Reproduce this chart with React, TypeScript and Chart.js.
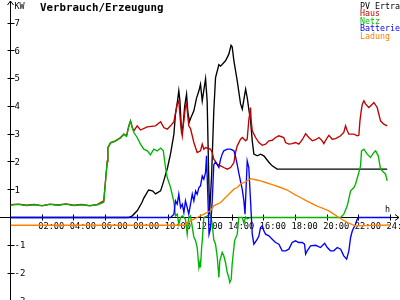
import React, { useEffect, useRef } from "react";
import { Chart, registerables } from "chart.js";

Chart.register(...registerables);

// ---- Data (hours of day, kW) ----
const pvTimes = [0, 7.45, 7.69, 8.0, 8.3, 8.42, 8.72, 8.97, 9.16, 9.48, 9.68, 9.92, 10.11, 10.32, 10.42, 10.55, 10.63, 10.7, 10.8, 10.9, 11.0, 11.12, 11.2, 11.3, 11.4, 11.58, 11.75, 11.9, 12.0, 12.11, 12.32, 12.42, 12.57, 12.7, 12.84, 12.95, 13.16, 13.27, 13.58, 13.79, 13.93, 14.0, 14.11, 14.32, 14.53, 14.64, 14.85, 14.95, 15.05, 15.16, 15.27, 15.37, 15.59, 15.79, 16.0, 16.32, 16.53, 16.84, 23.79];
const pvValues = [0, 0, 0.06, 0.24, 0.54, 0.7, 0.99, 0.96, 0.85, 0.96, 1.32, 1.8, 2.3, 3.0, 3.73, 4.2, 4.56, 4.2, 3.1, 3.3, 4.0, 4.44, 3.8, 3.45, 3.6, 3.84, 4.3, 4.56, 4.8, 4.2, 5.0, 4.2, 0.1, 1.5, 3.84, 5.04, 5.5, 5.45, 5.64, 5.88, 6.2, 6.15, 5.64, 4.92, 4.09, 3.9, 4.62, 4.32, 3.9, 3.5, 2.75, 2.28, 2.22, 2.28, 2.22, 1.99, 1.86, 1.74, 1.74];

const hausTimes = [0, 0.5, 1.0, 1.5, 2.0, 2.5, 3.0, 3.5, 4.0, 4.5, 5.0, 5.5, 5.89, 6.0, 6.11, 6.15, 6.32, 6.63, 6.95, 7.16, 7.33, 7.47, 7.58, 7.69, 7.79, 8.0, 8.21, 8.64, 9.16, 9.48, 9.68, 9.9, 10.11, 10.32, 10.53, 10.63, 10.74, 10.85, 10.95, 11.05, 11.12, 11.26, 11.37, 11.58, 11.79, 12.0, 12.11, 12.21, 12.32, 12.63, 12.74, 12.84, 13.06, 13.27, 13.47, 13.69, 13.9, 14.11, 14.21, 14.32, 14.53, 14.64, 14.85, 14.95, 15.05, 15.16, 15.2, 15.27, 15.48, 15.69, 15.9, 16.11, 16.32, 16.53, 16.74, 16.95, 17.26, 17.37, 17.58, 17.79, 18.0, 18.21, 18.43, 18.64, 18.84, 19.06, 19.27, 19.48, 19.69, 19.79, 20.01, 20.11, 20.32, 20.53, 20.85, 21.05, 21.16, 21.27, 21.37, 21.69, 21.9, 22.0, 22.07, 22.15, 22.22, 22.32, 22.43, 22.63, 22.85, 22.95, 23.16, 23.37, 23.58, 23.79];
const hausValues = [0.46, 0.48, 0.44, 0.47, 0.43, 0.48, 0.45, 0.49, 0.44, 0.47, 0.43, 0.47, 0.6, 1.32, 2.04, 2.52, 2.7, 2.76, 2.88, 3.0, 2.94, 3.3, 3.48, 3.24, 3.12, 3.3, 3.15, 3.26, 3.3, 3.45, 3.24, 3.18, 3.3, 3.45, 4.08, 4.2, 3.4, 2.94, 3.5, 4.0, 4.1, 3.3, 3.2, 2.7, 2.34, 2.4, 2.64, 2.46, 2.52, 2.46, 2.34, 2.1, 1.92, 1.86, 1.8, 1.74, 1.8, 1.98, 2.34, 2.58, 2.82, 2.88, 2.76, 2.82, 3.5, 3.96, 3.5, 3.12, 2.88, 2.7, 2.6, 2.64, 2.76, 2.78, 2.88, 2.94, 2.88, 2.7, 2.64, 2.66, 2.7, 2.64, 2.8, 3.02, 2.88, 2.76, 2.8, 2.88, 2.76, 2.66, 2.88, 2.96, 2.82, 2.84, 2.94, 3.06, 3.3, 3.12, 3.0, 3.0, 2.94, 2.96, 3.48, 3.84, 4.08, 4.2, 4.08, 3.96, 4.08, 4.14, 3.96, 3.48, 3.36, 3.3];

const netzTimes = [0, 0.5, 1.0, 1.5, 2.0, 2.5, 3.0, 3.5, 4.0, 4.5, 5.0, 5.5, 5.89, 6.0, 6.11, 6.15, 6.32, 6.63, 6.95, 7.16, 7.33, 7.47, 7.58, 7.79, 8.0, 8.21, 8.42, 8.64, 8.84, 9.05, 9.27, 9.48, 9.65, 9.79, 9.9, 10.11, 10.32, 10.42, 10.53, 10.63, 10.74, 10.85, 11.05, 11.16, 11.26, 11.37, 11.58, 11.69, 11.79, 11.9, 11.96, 12.0, 12.07, 12.11, 12.21, 12.42, 12.63, 12.74, 12.84, 12.95, 13.06, 13.16, 13.22, 13.37, 13.47, 13.58, 13.69, 13.79, 13.85, 13.94, 14.0, 14.11, 14.15, 14.32, 14.42, 14.64, 14.74, 14.85, 14.95, 15.16, 20.85, 21.05, 21.27, 21.48, 21.69, 21.79, 22.0, 22.11, 22.17, 22.32, 22.53, 22.74, 22.95, 23.06, 23.23, 23.37, 23.58, 23.69, 23.79];
const netzValues = [0.45, 0.47, 0.43, 0.46, 0.42, 0.47, 0.44, 0.48, 0.43, 0.46, 0.42, 0.46, 0.55, 1.3, 2.0, 2.5, 2.68, 2.75, 2.86, 3.0, 2.92, 3.28, 3.46, 3.06, 2.88, 2.64, 2.46, 2.4, 2.26, 2.46, 2.4, 2.5, 2.4, 1.8, 1.44, 1.08, 0.55, 0.06, 0.12, -0.24, 0.0, 0.06, -0.06, -0.6, 0.0, 0.06, -0.7, -0.84, -1.08, -1.8, -1.62, -1.8, -1.08, -0.84, 0.0, 0.05, 0.12, -0.24, -0.8, -0.96, -1.44, -2.16, -1.56, -1.26, -1.38, -1.62, -1.98, -2.16, -2.34, -2.22, -1.68, -1.08, -0.84, -0.6, 0.0, 0.0, -0.2, 0.02, -0.05, 0.0, 0.0, 0.12, 0.42, 0.96, 1.08, 1.2, 1.62, 1.86, 2.4, 2.46, 2.28, 2.16, 2.34, 2.4, 2.22, 1.74, 1.62, 1.56, 1.32];

const battTimes = [0, 10.11, 10.32, 10.42, 10.53, 10.63, 10.74, 10.85, 10.95, 11.05, 11.16, 11.26, 11.37, 11.48, 11.58, 11.69, 11.79, 11.9, 12.0, 12.11, 12.21, 12.32, 12.38, 12.44, 12.54, 12.63, 12.74, 12.84, 12.95, 13.16, 13.27, 13.37, 13.47, 13.69, 13.9, 14.11, 14.21, 14.32, 14.42, 14.53, 14.64, 14.74, 14.81, 14.95, 15.05, 15.16, 15.27, 15.37, 15.59, 15.69, 15.79, 15.9, 16.0, 16.11, 16.32, 16.53, 16.74, 16.95, 17.16, 17.37, 17.58, 17.79, 18.0, 18.21, 18.43, 18.57, 18.64, 18.74, 18.95, 19.27, 19.58, 19.84, 20.01, 20.21, 20.42, 20.64, 20.85, 21.05, 21.23, 21.37, 21.48, 21.59, 21.69, 21.79, 21.9, 22.0, 24.0];
const battValues = [0, 0, 0.12, 0.6, 0.48, 0.84, 0.36, 0.48, 0.18, 0.6, 0.36, 0.12, 0.48, 0.84, 0.6, 0.96, 0.84, 1.08, 1.14, 1.5, 1.38, 1.62, 2.22, 1.2, -0.6, -0.4, 0.6, 1.9, 2.0, 1.8, 2.1, 2.28, 2.4, 2.46, 2.46, 2.4, 2.2, 1.9, 1.6, 1.3, 1.0, 0.6, 0.12, 2.04, 1.8, 0.6, -0.6, -0.96, -0.78, -0.66, -0.36, -0.3, -0.48, -0.6, -0.66, -0.78, -0.9, -0.96, -1.2, -1.2, -1.14, -0.9, -0.84, -0.9, -0.9, -0.96, -1.32, -1.2, -1.02, -1.0, -1.08, -0.93, -1.08, -1.2, -1.2, -1.08, -1.14, -1.38, -1.5, -1.2, -0.72, -0.48, -0.36, -0.24, -0.06, 0, 0];

const ladTimes = [0, 11.05, 11.16, 11.37, 11.58, 11.79, 12.0, 12.21, 12.63, 12.84, 13.06, 13.27, 13.47, 13.69, 13.9, 14.11, 14.32, 14.53, 14.74, 14.95, 15.16, 15.48, 15.79, 16.11, 16.53, 17.06, 17.48, 17.9, 18.32, 18.64, 19.27, 19.58, 20.11, 20.42, 20.74, 21.27, 21.59, 21.79, 24.0];
const ladValues = [-0.28, -0.28, -0.18, -0.12, -0.06, 0, 0.06, 0.12, 0.24, 0.42, 0.48, 0.54, 0.66, 0.78, 0.9, 1.02, 1.08, 1.2, 1.26, 1.32, 1.4, 1.36, 1.32, 1.26, 1.18, 1.08, 0.99, 0.84, 0.72, 0.62, 0.44, 0.36, 0.24, 0.12, 0, -0.18, -0.26, -0.3, -0.27];

// ---- Axis / text ----
const yTicks = [-3, -2, -1, 1, 2, 3, 4, 5, 6, 7];
const xTicks = [2, 4, 6, 8, 10, 12, 14, 16, 18, 20, 22, 24];
const xTickLabels = ["02:00", "04:00", "06:00", "08:00", "10:00", "12:00", "14:00", "16:00", "18:00", "20:00", "22:00", "24:00"];
const seriesNames = ["PV Ertrag", "Haus", "Netz", "Batterie", "Ladung"];
const seriesColors = ["#000000", "#c00000", "#00b400", "#0000ff", "#ff8000"];
const legendColors = ["#000000", "#c00000", "#00c000", "#0000ff", "#ff8000"];
const titleText = "Verbrauch/Erzeugung";
const yUnit = "KW";
const xUnit = "h";

const MONO = '"DejaVu Sans Mono", monospace';

function pts(t: number[], v: number[]) {
  return t.map((x, i) => ({ x, y: v[i] }));
}

const axesPlugin = {
  id: "pixelAxes",
  beforeDatasetsDraw(chart: any) {
    const ctx = chart.ctx as CanvasRenderingContext2D;
    const xs = chart.scales.x;
    const ys = chart.scales.y;
    const W = chart.width;
    const H = chart.height;
    const x0 = Math.round(xs.getPixelForValue(0) - 0.5) + 0.5;
    const y0 = Math.round(ys.getPixelForValue(0) - 0.5) + 0.5;
    ctx.save();
    ctx.strokeStyle = "#000";
    ctx.lineWidth = 1;
    ctx.beginPath();
    ctx.moveTo(x0, 1);
    ctx.lineTo(x0, H);
    ctx.moveTo(0, y0);
    ctx.lineTo(W - 1, y0);
    ctx.moveTo(x0 - 3, 5);
    ctx.lineTo(x0, 1);
    ctx.lineTo(x0 + 3, 5);
    ctx.moveTo(W - 5, y0 - 3);
    ctx.lineTo(W - 1, y0);
    ctx.lineTo(W - 5, y0 + 3);
    yTicks.forEach((v) => {
      const y = Math.round(ys.getPixelForValue(v) - 0.5) + 0.5;
      ctx.moveTo(x0 - 3, y);
      ctx.lineTo(x0 + 4, y);
    });
    xTicks.forEach((v) => {
      const x = Math.round(xs.getPixelForValue(v) - 0.5) + 0.5;
      ctx.moveTo(x, y0 - 3);
      ctx.lineTo(x, y0 + 3);
    });
    ctx.stroke();

    ctx.fillStyle = "#000";
    ctx.font = `9px ${MONO}`;
    ctx.textAlign = "left";
    ctx.textBaseline = "middle";
    yTicks.forEach((v) => {
      const y = ys.getPixelForValue(v);
      ctx.fillText(String(v), x0 + 4, y + 0.5);
    });
    ctx.textBaseline = "alphabetic";
    ctx.font = `8.7px ${MONO}`;
    xTicks.forEach((v, i) => {
      const x = xs.getPixelForValue(v);
      ctx.fillText(xTickLabels[i], x - 4, y0 + 11.5);
    });
    ctx.font = `8.4px ${MONO}`;
    ctx.fillText(yUnit, x0 + 4, 8.5);
    ctx.fillText(xUnit, W - 15, y0 - 6);
    ctx.restore();
  },
  afterDraw(chart: any) {
    const ctx = chart.ctx as CanvasRenderingContext2D;
    ctx.save();
    ctx.textAlign = "left";
    ctx.textBaseline = "alphabetic";
    ctx.fillStyle = "#000";
    ctx.font = `bold 10.8px ${MONO}`;
    ctx.fillText(titleText, 40, 11);
    ctx.font = `8.3px ${MONO}`;
    seriesNames.forEach((name, i) => {
      ctx.fillStyle = legendColors[i];
      ctx.fillText(name, 360, 8.5 + i * 7.5);
    });
    ctx.restore();
  },
};

export default function App() {
  const ref = useRef<HTMLCanvasElement>(null);
  useEffect(() => {
    document.body.style.margin = "0";
    const seriesData = [
      pts(pvTimes, pvValues),
      pts(hausTimes, hausValues),
      pts(netzTimes, netzValues),
      pts(battTimes, battValues),
      pts(ladTimes, ladValues),
    ];
    const chart = new Chart(ref.current as HTMLCanvasElement, {
      type: "line",
      data: {
        datasets: seriesData.map((d, i) => ({
          label: seriesNames[i],
          data: d,
          borderColor: seriesColors[i],
          backgroundColor: seriesColors[i],
          borderWidth: 1.35,
          pointRadius: 0,
          tension: 0,
          fill: false,
          order: 5 - i,
        })),
      },
      options: {
        responsive: false,
        animation: false,
        devicePixelRatio: 1,
        layout: { padding: { left: 10.5, right: 9.5, top: 0, bottom: 0 } },
        scales: {
          x: { type: "linear", min: 0, max: 24, display: false },
          y: { type: "linear", min: -2.97, max: 7.83, display: false },
        },
        plugins: {
          legend: { display: false },
          title: { display: false },
          tooltip: { enabled: false },
        },
      },
      plugins: [axesPlugin],
    } as any);
    return () => chart.destroy();
  }, []);
  return (
    <canvas
      ref={ref}
      width={400}
      height={300}
      style={{ display: "block", position: "fixed", left: 0, top: 0, background: "#fff" }}
    />
  );
}
